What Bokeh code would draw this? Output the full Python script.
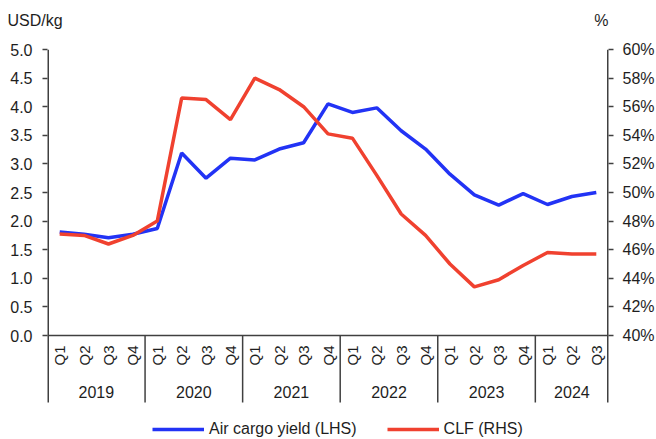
import math
from bokeh.plotting import figure
from bokeh.models import (Range1d, LinearAxis, FixedTicker, Span,
                          NumeralTickFormatter, PrintfTickFormatter, Legend, LegendItem)
from bokeh.core.properties import value
from bokeh.embed import file_html
from bokeh.resources import INLINE

years = ["2019"] * 4 + ["2020"] * 4 + ["2021"] * 4 + ["2022"] * 4 + ["2023"] * 4 + ["2024"] * 3
quarters = ["Q1", "Q2", "Q3", "Q4"] * 5 + ["Q1", "Q2", "Q3"]
air_cargo_yield = [1.81, 1.77, 1.71, 1.77, 1.87, 3.19, 2.75, 3.10, 3.07, 3.26, 3.37, 4.05,
                   3.90, 3.98, 3.58, 3.26, 2.82, 2.46, 2.28, 2.48, 2.29, 2.43, 2.50]
clf = [47.1, 47.0, 46.4, 47.0, 48.0, 56.6, 56.5, 55.1, 58.0, 57.2, 56.0, 54.1,
       53.8, 51.2, 48.5, 47.0, 45.0, 43.4, 43.9, 44.9, 45.8, 45.7, 45.7]
lhs_ticks = [0.0, 0.5, 1.0, 1.5, 2.0, 2.5, 3.0, 3.5, 4.0, 4.5, 5.0]
rhs_ticks = [40, 42, 44, 46, 48, 50, 52, 54, 56, 58, 60]
lhs_unit = "USD/kg"
rhs_unit = "%"

FONT = "Liberation Sans"
FS = "16px"
TXT = "#1e1e1e"
AX = "#404040"
BLUE = "#2233f5"
RED = "#f0412f"

n = len(quarters)
x = [i + 0.5 for i in range(n)]

bounds = [0]
for i in range(1, n):
    if years[i] != years[i - 1]:
        bounds.append(i)
bounds.append(n)
centers = [(bounds[k] + bounds[k + 1]) / 2 for k in range(len(bounds) - 1)]
year_names = [years[b] for b in bounds[:-1]]

# the frame extends below y=0 to hold the category labels and the legend
sep_lo = -1.17
lhs_lo = -1.818
scale = (rhs_ticks[-1] - rhs_ticks[0]) / lhs_ticks[-1]
rhs_lo = rhs_ticks[0] + scale * lhs_lo

p = figure(width=656, height=439, frame_width=561, frame_height=390, x_range=Range1d(0, n),
           y_range=Range1d(lhs_lo, lhs_ticks[-1]),
           output_backend="svg", toolbar_location=None,
           x_axis_type=None, y_axis_type=None,
           min_border_left=47, min_border_right=48, min_border_top=49, min_border_bottom=0)
p.extra_y_ranges = {"clf": Range1d(rhs_lo, rhs_ticks[-1])}
p.outline_line_color = None
p.xgrid.visible = False
p.ygrid.visible = False


def style_axis(ax):
    ax.axis_line_color = None
    ax.major_tick_line_color = AX
    ax.major_tick_line_width = 1.5
    ax.major_label_text_font = FONT
    ax.major_label_text_font_size = FS
    ax.major_label_text_color = TXT
    ax.major_tick_out = 5
    ax.major_tick_in = 0
    ax.minor_tick_line_color = None


left = LinearAxis(ticker=FixedTicker(ticks=lhs_ticks, minor_ticks=[]),
                  formatter=NumeralTickFormatter(format="0.0"))
style_axis(left)
left.major_label_standoff = 10
p.add_layout(left, "left")

right = LinearAxis(y_range_name="clf", ticker=FixedTicker(ticks=rhs_ticks, minor_ticks=[]),
                   formatter=PrintfTickFormatter(format="%d%%"))
style_axis(right)
right.major_label_standoff = 9
p.add_layout(right, "right")

# unit captions above the two value axes
unit_x = [0.62, float(n)]
top = LinearAxis(ticker=FixedTicker(ticks=unit_x, minor_ticks=[]),
                 major_label_overrides={unit_x[0]: lhs_unit, unit_x[1]: rhs_unit})
style_axis(top)
top.major_tick_line_color = None
top.major_tick_out = 0
top.major_label_orientation = -1e-6
top.major_label_standoff = 29
p.add_layout(top, "above")

# x axis line at zero, value-axis lines and group separators
p.add_layout(Span(location=0, dimension="width", line_color=AX, line_width=1.5))
edge = [b in (0, n) for b in bounds]
p.segment(x0=bounds, y0=[sep_lo] * len(bounds), x1=bounds,
          y1=[lhs_ticks[-1] if e else 0 for e in edge],
          line_width=[3.0 if e else 1.5 for e in edge], line_color=AX)

p.text(x=x, y=[0] * n, text=quarters, angle=math.pi / 2, text_align="right",
       text_baseline="middle", y_offset=10, text_font=value(FONT), text_font_size="15px",
       text_color=TXT)
p.text(x=centers, y=[0] * len(centers), text=year_names, text_align="center",
       text_baseline="middle", y_offset=56, text_font=value(FONT), text_font_size=FS,
       text_color=TXT)

r1 = p.line(x, air_cargo_yield, line_color=BLUE, line_width=3.5)
r2 = p.line(x, clf, y_range_name="clf", line_color=RED, line_width=3.5)

legend = Legend(items=[LegendItem(label="Air cargo yield (LHS)", renderers=[r1]),
                       LegendItem(label="CLF (RHS)", renderers=[r2])],
                orientation="horizontal", location=(105, 0),
                border_line_color=None, background_fill_alpha=0,
                glyph_width=52, glyph_height=20, label_standoff=5, spacing=30,
                label_text_font=FONT, label_text_font_size=FS, label_text_color=TXT,
                padding=0, margin=0)
p.add_layout(legend)

open("out.html", "w").write(file_html(p, INLINE))
